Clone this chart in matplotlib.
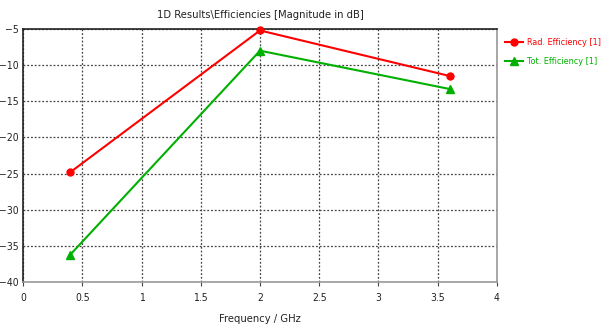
import matplotlib

matplotlib.use("Agg")
import matplotlib.pyplot as plt

plt.rcParams["font.family"] = ["DejaVu Sans"]
plt.rcParams["font.stretch"] = "condensed"

freq_ghz = [0.4, 2.0, 3.6]
rad_eff_db = [-24.8, -5.2, -11.5]
tot_eff_db = [-36.2, -8.0, -13.3]

x_ticks = [0, 0.5, 1, 1.5, 2, 2.5, 3, 3.5, 4]
x_labels = ["0", "0.5", "1", "1.5", "2", "2.5", "3", "3.5", "4"]
y_ticks = [-40, -35, -30, -25, -20, -15, -10, -5]

fig = plt.figure(figsize=(6.01, 3.24), dpi=100)
ax = fig.add_axes([23 / 601, 1 - 282 / 324, (497 - 23) / 601, (282 - 29) / 324])

ax.plot(freq_ghz, rad_eff_db, color="#ff0000", lw=1.5, marker="o", ms=5,
        label="Rad. Efficiency [1]", clip_on=False, zorder=3)
ax.plot(freq_ghz, tot_eff_db, color="#00b000", lw=1.5, marker="^", ms=6,
        label="Tot. Efficiency [1]", clip_on=False, zorder=3)

ax.set_xlim(0, 4)
ax.set_ylim(-40, -5)
ax.set_xticks(x_ticks)
ax.set_xticklabels(x_labels)
ax.set_yticks(y_ticks)
ax.grid(True, color="#444444", ls=(0, (1.5, 1.5)), lw=0.9)
ax.tick_params(labelsize=7.5, length=3, color="#444444", pad=5, labelcolor="#222222")
ax.tick_params(axis="y", length=0, pad=3)

ax.spines["top"].set_color("#222222")
ax.spines["left"].set_color("#222222")
ax.spines["right"].set_color("#999999")
ax.spines["bottom"].set_color("#999999")
for s in ax.spines.values():
    s.set_linewidth(1.2)

ax.set_title("1D Results\\Efficiencies [Magnitude in dB]", fontsize=8, pad=8,
             color="#222222")
ax.set_xlabel("Frequency / GHz", fontsize=8, labelpad=8, color="#222222")

leg = ax.legend(loc="upper left", bbox_to_anchor=(1.017, 0.965), frameon=False,
                fontsize=6.5, handlelength=2.0, handletextpad=0.4,
                labelspacing=1.15, borderaxespad=0, borderpad=0)
for text, line in zip(leg.get_texts(), leg.get_lines()):
    text.set_color(line.get_color())

fig.savefig("out.png", dpi=100)
